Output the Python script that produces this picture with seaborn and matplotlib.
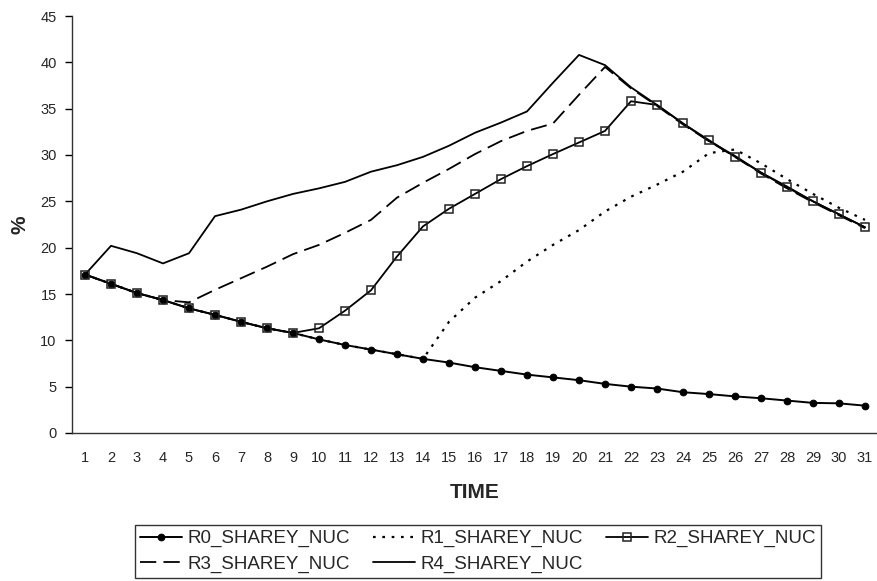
import matplotlib
matplotlib.use("Agg")
import matplotlib.pyplot as plt
from matplotlib.ticker import FixedLocator
import seaborn as sns
import pandas as pd
import numpy as np

time = list(range(1, 32))
r0 = [17.1, 16.1, 15.1, 14.35, 13.45, 12.75, 12.0, 11.3, 10.8, 10.1, 9.5,
      9.0, 8.5, 8.0, 7.6, 7.1, 6.7, 6.3, 6.0, 5.7, 5.3, 5.0, 4.8, 4.4, 4.2,
      3.95, 3.75, 3.5, 3.25, 3.2, 2.95]
r1 = [17.1, 16.1, 15.1, 14.35, 13.45, 12.75, 12.0, 11.3, 10.8, 10.1, 9.5,
      9.0, 8.5, 8.0, 12.0, 14.6, 16.4, 18.5, 20.3, 21.9, 23.9, 25.5, 26.8,
      28.2, 30.2, 30.6, 29.1, 27.4, 25.8, 24.3, 23.0]
r2 = [17.1, 16.1, 15.1, 14.35, 13.45, 12.75, 12.0, 11.3, 10.8, 11.3, 13.2,
      15.4, 19.05, 22.3, 24.2, 25.8, 27.4, 28.8, 30.1, 31.35, 32.6, 35.8,
      35.4, 33.4, 31.6, 29.8, 28.1, 26.5, 25.0, 23.6, 22.2]
r3 = [17.1, 16.1, 15.1, 14.35, 14.1, 15.45, 16.7, 17.95, 19.3, 20.3, 21.6,
      23.0, 25.4, 27.0, 28.5, 30.1, 31.5, 32.6, 33.4, 36.5, 39.5, 37.2,
      35.3, 33.3, 31.5, 29.8, 28.0, 26.4, 24.9, 23.5, 22.1]
r4 = [17.1, 20.2, 19.4, 18.3, 19.4, 23.4, 24.1, 25.0, 25.8, 26.4, 27.1,
      28.2, 28.9, 29.8, 31.0, 32.4, 33.5, 34.7, 37.8, 40.8, 39.7, 37.3,
      35.4, 33.4, 31.5, 29.9, 28.1, 26.6, 25.0, 23.6, 22.2]
names = ["R0_SHAREY_NUC", "R1_SHAREY_NUC", "R2_SHAREY_NUC",
         "R3_SHAREY_NUC", "R4_SHAREY_NUC"]
yticks = list(range(0, 50, 5))

sns.set_style("white")
plt.rcParams['font.family'] = ['Liberation Sans', 'DejaVu Sans']

fig = plt.figure(figsize=(8.77, 5.81), dpi=100)
ax = fig.add_axes([72 / 877, (581 - 433) / 581, (878 - 72) / 877, (433 - 16) / 581])

df = pd.DataFrame({"TIME": time, names[0]: r0, names[1]: r1, names[2]: r2,
                   names[3]: r3, names[4]: r4})

styles = {
    names[0]: dict(linestyle="-", marker="o", markersize=4.8, markerfacecolor="black",
                   markeredgecolor="black", linewidth=1.4),
    names[1]: dict(linestyle=(0, (1.2, 3.0)), marker=None, linewidth=1.6),
    names[2]: dict(linestyle="-", marker="s", markersize=5.6, markerfacecolor="none",
                   markeredgecolor="#222222", markeredgewidth=1.1, linewidth=1.3),
    names[3]: dict(linestyle=(0, (9, 4)), marker=None, linewidth=1.3),
    names[4]: dict(linestyle="-", marker=None, linewidth=1.3),
}
handles = {}
for n in [names[4], names[3], names[1], names[0], names[2]]:
    sns.lineplot(data=df, x="TIME", y=n, ax=ax, color="black", label=n,
                 legend=False, **styles[n])
    handles[n] = ax.lines[-1]

ax.set_xlim(0.5, 31.5)
ax.set_ylim(0, 45)
ax.set_yticks(yticks)
ax.set_xticks(time)
ax.xaxis.set_minor_locator(FixedLocator(np.arange(0.5, 32, 1.0)))
ax.tick_params(axis="x", which="major", length=0, labelsize=10.5, pad=13)
ax.tick_params(axis="x", which="minor", length=5, width=1, color="black", direction="out")
ax.tick_params(axis="y", which="major", length=5, width=1, color="black",
               direction="out", labelsize=10.5, pad=6, left=True)
for s in ["top", "right"]:
    ax.spines[s].set_visible(False)
for s in ["left", "bottom"]:
    ax.spines[s].set_color("#333333")
    ax.spines[s].set_linewidth(1.0)

ax.set_xlabel("TIME", fontsize=15, fontweight="bold", labelpad=13)
ax.set_ylabel("%", fontsize=15, fontweight="bold", labelpad=8)

order = [names[0], names[3], names[1], names[4], names[2]]
leg = fig.legend([handles[n] for n in order], order, loc="center",
                 bbox_to_anchor=(478 / 877, 1 - 551.5 / 581), ncol=3,
                 fontsize=13.5, frameon=True, fancybox=False, handlelength=2.25,
                 columnspacing=1.2, handletextpad=0.32, labelspacing=0.45,
                 borderpad=0.25, borderaxespad=0)
leg.get_frame().set_edgecolor("black")
leg.get_frame().set_linewidth(1.0)

fig.savefig("out.png", dpi=100)
